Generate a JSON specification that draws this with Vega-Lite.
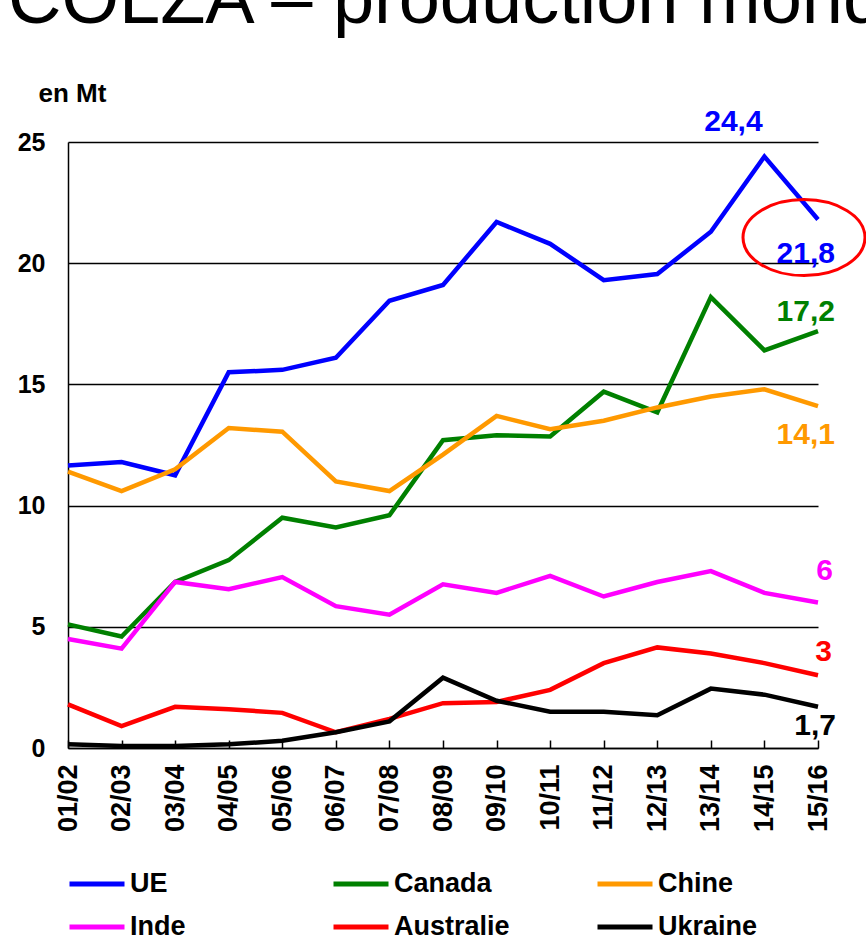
{
  "$schema": "https://vega.github.io/schema/vega-lite/v6.json",
  "autosize": {"type": "none"},
  "width": 750,
  "height": 606,
  "padding": {"left": 68, "top": 142, "right": 48, "bottom": 193},
  "background": "#ffffff",
  "title": {
    "text": "COLZA – production mondiale",
    "anchor": "start",
    "frame": "group",
    "orient": "top",
    "offset": 57,
    "dx": -60,
    "dy": 74,
    "baseline": "alphabetic",
    "font": "Liberation Sans",
    "fontSize": 74,
    "fontWeight": "normal",
    "color": "#000000"
  },
  "config": {
    "view": {"stroke": null},
    "legend": {
      "orient": "none",
      "legendX": -1,
      "legendY": 712,
      "direction": "horizontal",
      "columns": 3,
      "gridAlign": "all",
      "symbolType": "stroke",
      "symbolSize": 3025,
      "symbolStrokeWidth": 5,
      "labelFont": "Liberation Sans",
      "labelFontSize": 27,
      "labelFontWeight": "bold",
      "labelColor": "#000000",
      "labelOffset": 3,
      "labelLimit": 400,
      "columnPadding": 77,
      "rowPadding": -6,
      "padding": 0,
      "title": null
    }
  },
  "datasets": {
    "prod": [
      {"pays": "UE", "campagne": "01/02", "mt": 11.65},
      {"pays": "UE", "campagne": "02/03", "mt": 11.8},
      {"pays": "UE", "campagne": "03/04", "mt": 11.25},
      {"pays": "UE", "campagne": "04/05", "mt": 15.5},
      {"pays": "UE", "campagne": "05/06", "mt": 15.6},
      {"pays": "UE", "campagne": "06/07", "mt": 16.1},
      {"pays": "UE", "campagne": "07/08", "mt": 18.45},
      {"pays": "UE", "campagne": "08/09", "mt": 19.1},
      {"pays": "UE", "campagne": "09/10", "mt": 21.7},
      {"pays": "UE", "campagne": "10/11", "mt": 20.8},
      {"pays": "UE", "campagne": "11/12", "mt": 19.3},
      {"pays": "UE", "campagne": "12/13", "mt": 19.55},
      {"pays": "UE", "campagne": "13/14", "mt": 21.3},
      {"pays": "UE", "campagne": "14/15", "mt": 24.4},
      {"pays": "UE", "campagne": "15/16", "mt": 21.8},
      {"pays": "Canada", "campagne": "01/02", "mt": 5.1},
      {"pays": "Canada", "campagne": "02/03", "mt": 4.6},
      {"pays": "Canada", "campagne": "03/04", "mt": 6.85},
      {"pays": "Canada", "campagne": "04/05", "mt": 7.75},
      {"pays": "Canada", "campagne": "05/06", "mt": 9.5},
      {"pays": "Canada", "campagne": "06/07", "mt": 9.1},
      {"pays": "Canada", "campagne": "07/08", "mt": 9.6},
      {"pays": "Canada", "campagne": "08/09", "mt": 12.7},
      {"pays": "Canada", "campagne": "09/10", "mt": 12.9},
      {"pays": "Canada", "campagne": "10/11", "mt": 12.85},
      {"pays": "Canada", "campagne": "11/12", "mt": 14.7},
      {"pays": "Canada", "campagne": "12/13", "mt": 13.85},
      {"pays": "Canada", "campagne": "13/14", "mt": 18.6},
      {"pays": "Canada", "campagne": "14/15", "mt": 16.4},
      {"pays": "Canada", "campagne": "15/16", "mt": 17.2},
      {"pays": "Chine", "campagne": "01/02", "mt": 11.4},
      {"pays": "Chine", "campagne": "02/03", "mt": 10.6},
      {"pays": "Chine", "campagne": "03/04", "mt": 11.5},
      {"pays": "Chine", "campagne": "04/05", "mt": 13.2},
      {"pays": "Chine", "campagne": "05/06", "mt": 13.05},
      {"pays": "Chine", "campagne": "06/07", "mt": 11.0},
      {"pays": "Chine", "campagne": "07/08", "mt": 10.6},
      {"pays": "Chine", "campagne": "08/09", "mt": 12.1},
      {"pays": "Chine", "campagne": "09/10", "mt": 13.7},
      {"pays": "Chine", "campagne": "10/11", "mt": 13.15},
      {"pays": "Chine", "campagne": "11/12", "mt": 13.5},
      {"pays": "Chine", "campagne": "12/13", "mt": 14.05},
      {"pays": "Chine", "campagne": "13/14", "mt": 14.5},
      {"pays": "Chine", "campagne": "14/15", "mt": 14.8},
      {"pays": "Chine", "campagne": "15/16", "mt": 14.1},
      {"pays": "Inde", "campagne": "01/02", "mt": 4.5},
      {"pays": "Inde", "campagne": "02/03", "mt": 4.1},
      {"pays": "Inde", "campagne": "03/04", "mt": 6.85},
      {"pays": "Inde", "campagne": "04/05", "mt": 6.55},
      {"pays": "Inde", "campagne": "05/06", "mt": 7.05},
      {"pays": "Inde", "campagne": "06/07", "mt": 5.85},
      {"pays": "Inde", "campagne": "07/08", "mt": 5.5},
      {"pays": "Inde", "campagne": "08/09", "mt": 6.75},
      {"pays": "Inde", "campagne": "09/10", "mt": 6.4},
      {"pays": "Inde", "campagne": "10/11", "mt": 7.1},
      {"pays": "Inde", "campagne": "11/12", "mt": 6.25},
      {"pays": "Inde", "campagne": "12/13", "mt": 6.85},
      {"pays": "Inde", "campagne": "13/14", "mt": 7.3},
      {"pays": "Inde", "campagne": "14/15", "mt": 6.4},
      {"pays": "Inde", "campagne": "15/16", "mt": 6.0},
      {"pays": "Australie", "campagne": "01/02", "mt": 1.8},
      {"pays": "Australie", "campagne": "02/03", "mt": 0.9},
      {"pays": "Australie", "campagne": "03/04", "mt": 1.7},
      {"pays": "Australie", "campagne": "04/05", "mt": 1.6},
      {"pays": "Australie", "campagne": "05/06", "mt": 1.45},
      {"pays": "Australie", "campagne": "06/07", "mt": 0.65},
      {"pays": "Australie", "campagne": "07/08", "mt": 1.2},
      {"pays": "Australie", "campagne": "08/09", "mt": 1.85},
      {"pays": "Australie", "campagne": "09/10", "mt": 1.9},
      {"pays": "Australie", "campagne": "10/11", "mt": 2.4},
      {"pays": "Australie", "campagne": "11/12", "mt": 3.5},
      {"pays": "Australie", "campagne": "12/13", "mt": 4.15},
      {"pays": "Australie", "campagne": "13/14", "mt": 3.9},
      {"pays": "Australie", "campagne": "14/15", "mt": 3.5},
      {"pays": "Australie", "campagne": "15/16", "mt": 3.0},
      {"pays": "Ukraine", "campagne": "01/02", "mt": 0.15},
      {"pays": "Ukraine", "campagne": "02/03", "mt": 0.08},
      {"pays": "Ukraine", "campagne": "03/04", "mt": 0.08},
      {"pays": "Ukraine", "campagne": "04/05", "mt": 0.15},
      {"pays": "Ukraine", "campagne": "05/06", "mt": 0.3},
      {"pays": "Ukraine", "campagne": "06/07", "mt": 0.65},
      {"pays": "Ukraine", "campagne": "07/08", "mt": 1.1},
      {"pays": "Ukraine", "campagne": "08/09", "mt": 2.9},
      {"pays": "Ukraine", "campagne": "09/10", "mt": 1.95},
      {"pays": "Ukraine", "campagne": "10/11", "mt": 1.5},
      {"pays": "Ukraine", "campagne": "11/12", "mt": 1.5},
      {"pays": "Ukraine", "campagne": "12/13", "mt": 1.35},
      {"pays": "Ukraine", "campagne": "13/14", "mt": 2.45},
      {"pays": "Ukraine", "campagne": "14/15", "mt": 2.2},
      {"pays": "Ukraine", "campagne": "15/16", "mt": 1.7}
    ],
    "labels": [
      {"pays": "UE", "campagne": "14/15", "mt": 24.4, "label": "24,4"},
      {"pays": "UE", "campagne": "15/16", "mt": 21.8, "label": "21,8"},
      {"pays": "Canada", "campagne": "15/16", "mt": 17.2, "label": "17,2"},
      {"pays": "Chine", "campagne": "15/16", "mt": 14.1, "label": "14,1"},
      {"pays": "Inde", "campagne": "15/16", "mt": 6.0, "label": "6"},
      {"pays": "Australie", "campagne": "15/16", "mt": 3.0, "label": "3"},
      {"pays": "Ukraine", "campagne": "15/16", "mt": 1.7, "label": "1,7"}
    ]
  },
  "encoding": {
    "x": {
      "field": "campagne",
      "type": "ordinal",
      "scale": {"type": "point", "padding": 0},
      "axis": {
        "title": null,
        "labelAngle": -90,
        "labelFont": "Liberation Sans",
        "labelFontSize": 27,
        "labelFontWeight": "bold",
        "labelColor": "#000000",
        "tickSize": -8,
        "tickColor": "#000000",
        "tickWidth": 1.5,
        "domainColor": "#000000",
        "domainWidth": 1.5,
        "labelPadding": 24,
        "grid": false
      }
    },
    "y": {
      "field": "mt",
      "type": "quantitative",
      "scale": {"domain": [0, 25], "nice": false},
      "axis": {
        "values": [0, 5, 10, 15, 20, 25],
        "title": "en Mt",
        "titleAngle": 0,
        "titleAlign": "left",
        "titleBaseline": "alphabetic",
        "titleX": -30,
        "titleY": -41,
        "titleFont": "Liberation Sans",
        "titleFontSize": 26,
        "titleFontWeight": "bold",
        "titleColor": "#000000",
        "labelFont": "Liberation Sans",
        "labelFontSize": 25,
        "labelFontWeight": "bold",
        "labelColor": "#000000",
        "ticks": false,
        "labelPadding": 23,
        "domainColor": "#000000",
        "domainWidth": 1.5,
        "grid": true,
        "gridColor": "#000000",
        "gridWidth": 1.5,
        "gridOpacity": 1
      }
    }
  },
  "layer": [
    {
      "data": {"name": "prod"},
      "mark": {"type": "line", "strokeWidth": 4.5, "strokeJoin": "miter"},
      "encoding": {
        "color": {
          "field": "pays",
          "type": "nominal",
          "sort": ["UE", "Canada", "Chine", "Inde", "Australie", "Ukraine"],
          "scale": {
            "domain": ["UE", "Canada", "Chine", "Inde", "Australie", "Ukraine"],
            "range": ["#0000FF", "#008000", "#FF9900", "#FF00FF", "#FF0000", "#000000"]
          }
        }
      }
    },
    {
      "data": {"name": "labels"},
      "transform": [{"filter": "datum.label === '24,4'"}],
      "mark": {"type": "text", "font": "Liberation Sans", "fontSize": 30, "fontWeight": "bold", "color": "#0000FF", "align": "center", "baseline": "alphabetic", "dx": -31, "dy": -26},
      "encoding": {"text": {"field": "label"}}
    },
    {
      "data": {"name": "labels"},
      "transform": [{"filter": "datum.label === '21,8'"}],
      "mark": {"type": "text", "font": "Liberation Sans", "fontSize": 30, "fontWeight": "bold", "color": "#0000FF", "align": "right", "baseline": "alphabetic", "dx": 17, "dy": 43},
      "encoding": {"text": {"field": "label"}}
    },
    {
      "data": {"name": "labels"},
      "transform": [{"filter": "datum.label === '17,2'"}],
      "mark": {"type": "text", "font": "Liberation Sans", "fontSize": 30, "fontWeight": "bold", "color": "#008000", "align": "right", "baseline": "alphabetic", "dx": 17, "dy": -10},
      "encoding": {"text": {"field": "label"}}
    },
    {
      "data": {"name": "labels"},
      "transform": [{"filter": "datum.label === '14,1'"}],
      "mark": {"type": "text", "font": "Liberation Sans", "fontSize": 30, "fontWeight": "bold", "color": "#FF9900", "align": "right", "baseline": "alphabetic", "dx": 17, "dy": 38},
      "encoding": {"text": {"field": "label"}}
    },
    {
      "data": {"name": "labels"},
      "transform": [{"filter": "datum.label === '6'"}],
      "mark": {"type": "text", "font": "Liberation Sans", "fontSize": 30, "fontWeight": "bold", "color": "#FF00FF", "align": "right", "baseline": "alphabetic", "dx": 15, "dy": -23},
      "encoding": {"text": {"field": "label"}}
    },
    {
      "data": {"name": "labels"},
      "transform": [{"filter": "datum.label === '3'"}],
      "mark": {"type": "text", "font": "Liberation Sans", "fontSize": 30, "fontWeight": "bold", "color": "#FF0000", "align": "right", "baseline": "alphabetic", "dx": 14, "dy": -14},
      "encoding": {"text": {"field": "label"}}
    },
    {
      "data": {"name": "labels"},
      "transform": [{"filter": "datum.label === '1,7'"}],
      "mark": {"type": "text", "font": "Liberation Sans", "fontSize": 30, "fontWeight": "bold", "color": "#000000", "align": "right", "baseline": "alphabetic", "dx": 18, "dy": 28},
      "encoding": {"text": {"field": "label"}}
    },
    {
      "data": {"name": "labels"},
      "transform": [{"filter": "datum.label === '21,8'"}],
      "mark": {
        "type": "point",
        "shape": "M -1 0 A 1 0.623 0 1 1 1 0 A 1 0.623 0 1 1 -1 0 Z",
        "size": 14884,
        "filled": false,
        "stroke": "#FF0000",
        "strokeWidth": 3,
        "opacity": 1,
        "xOffset": -14,
        "yOffset": 18
      },
      "encoding": {}
    }
  ]
}
